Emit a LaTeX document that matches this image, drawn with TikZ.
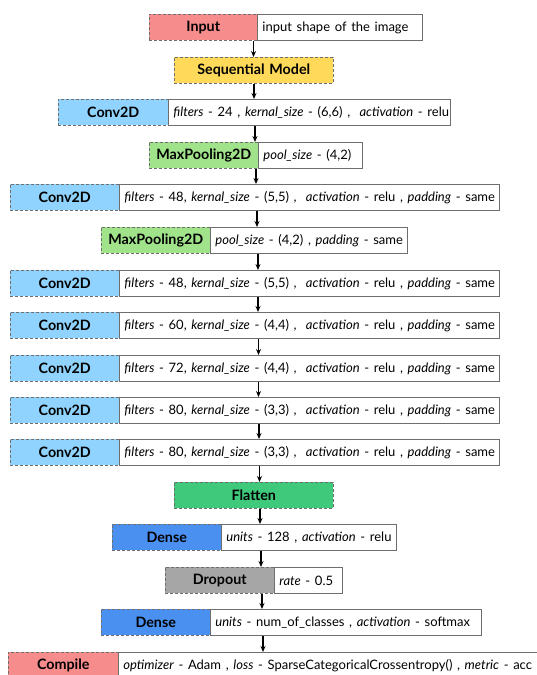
\documentclass[tikz,border=0pt]{standalone}
\usepackage{fontspec}
\setmainfont{Lato}[WordSpace=1.4]
\usetikzlibrary{arrows.meta}

\definecolor{cPink}{RGB}{247,140,140}
\definecolor{cYellow}{RGB}{255,217,90}
\definecolor{cSky}{RGB}{143,211,254}
\definecolor{cLime}{RGB}{160,227,138}
\definecolor{cGreen}{RGB}{63,201,122}
\definecolor{cBlue}{RGB}{74,144,240}
\definecolor{cGray}{RGB}{166,166,166}
\definecolor{cEdge}{RGB}{110,110,110}

\tikzset{
  layer/.style={draw=cEdge, densely dashed, line width=0.5pt, inner sep=0pt,
    minimum height=26pt, anchor=north west, font=\fontsize{14.3}{16}\selectfont\bfseries},
  params/.style={draw=cEdge, fill=white, line width=0.8pt, inner ysep=0pt, inner xsep=5pt,
    minimum height=26pt, anchor=north west, font=\fontsize{13}{15}\selectfont},
  arr/.style={line width=1.2pt, -{Stealth[length=6pt,width=5pt]}},
}
% left-aligned parameter text in a box of fixed inner width
\newcommand{\ptext}[2]{\makebox[#1pt][l]{#2}}

\begin{document}
\begin{tikzpicture}[x=1pt,y=-1pt]
\useasboundingbox (0,0) rectangle (536,675);

% input row
\node[layer, fill=cPink, minimum width=108pt] (inL) at (149,14) {Input};
\node[params] (inR) at (257,14) {\ptext{155}{input shape of the image}};

\node[layer, fill=cYellow, minimum width=159pt] (seq) at (174,57) {Sequential Model};

% feature extraction
\node[layer, fill=cSky, minimum width=110pt] (c1L) at (58,99) {Conv2D};
\node[params] (c1R) at (168,99) {\ptext{272}{\textit{filters} - 24 , \textit{kernal\_size} - (6,6) ,\ \ \textit{activation} - relu}};

\node[layer, fill=cLime, minimum width=109pt] (p1L) at (149,142) {MaxPooling2D};
\node[params] (p1R) at (258,142) {\ptext{94}{\textit{pool\_size} - (4,2)}};

\node[layer, fill=cSky, minimum width=109pt] (c2L) at (10,184) {Conv2D};
\node[params] (c2R) at (119,184) {\ptext{370}{\textit{filters} - 48, \textit{kernal\_size} - (5,5) ,\ \ \textit{activation} - relu , \textit{padding} - same}};

\node[layer, fill=cLime, minimum width=109pt] (p2L) at (101,227) {MaxPooling2D};
\node[params] (p2R) at (210,227) {\ptext{187}{\textit{pool\_size} - (4,2) , \textit{padding} - same}};

\node[layer, fill=cSky, minimum width=109pt] (c3L) at (10,270) {Conv2D};
\node[params] (c3R) at (119,270) {\ptext{370}{\textit{filters} - 48, \textit{kernal\_size} - (5,5) ,\ \ \textit{activation} - relu , \textit{padding} - same}};

\node[layer, fill=cSky, minimum width=109pt] (c4L) at (10,312) {Conv2D};
\node[params] (c4R) at (119,312) {\ptext{370}{\textit{filters} - 60, \textit{kernal\_size} - (4,4) ,\ \ \textit{activation} - relu , \textit{padding} - same}};

\node[layer, fill=cSky, minimum width=109pt] (c5L) at (10,355) {Conv2D};
\node[params] (c5R) at (119,355) {\ptext{370}{\textit{filters} - 72, \textit{kernal\_size} - (4,4) ,\ \ \textit{activation} - relu , \textit{padding} - same}};

\node[layer, fill=cSky, minimum width=109pt] (c6L) at (10,397) {Conv2D};
\node[params] (c6R) at (119,397) {\ptext{370}{\textit{filters} - 80, \textit{kernal\_size} - (3,3) ,\ \ \textit{activation} - relu , \textit{padding} - same}};

\node[layer, fill=cSky, minimum width=109pt] (c7L) at (10,439) {Conv2D};
\node[params] (c7R) at (119,439) {\ptext{370}{\textit{filters} - 80, \textit{kernal\_size} - (3,3) ,\ \ \textit{activation} - relu , \textit{padding} - same}};

% classifier head
\node[layer, fill=cGreen, minimum width=159pt] (fl) at (174,482) {Flatten};

\node[layer, fill=cBlue, minimum width=109pt] (d1L) at (112,524) {Dense};
\node[params] (d1R) at (221,524) {\ptext{165}{\textit{units} - 128 , \textit{activation} - relu}};

\node[layer, fill=cGray, minimum width=109pt] (drL) at (165,567) {Dropout};
\node[params] (drR) at (274,567) {\ptext{58}{\textit{rate} - 0.5}};

\node[layer, fill=cBlue, minimum width=109pt] (d2L) at (101,609) {Dense};
\node[params] (d2R) at (210,609) {\ptext{261}{\textit{units} - num\_of\_classes , \textit{activation} - softmax}};

\node[layer, fill=cPink, minimum width=110pt] (coL) at (8,652) {Compile};
\node[params] (coR) at (118,652) {\ptext{440}{\textit{optimizer} - Adam , \textit{loss} - SparseCategoricalCrossentropy() , \textit{metric} - acc}};

% flow arrows between consecutive layers
\draw[arr] (253.5,0 |- inL.south) -- (253.5,0 |- seq.north);
\draw[arr] (254,0 |- seq.south) -- (254,0 |- c1R.north);
\draw[arr] (255,0 |- c1R.south) -- (255,0 |- p1L.north);
\draw[arr] (256,0 |- p1L.south) -- (256,0 |- c2R.north);
\draw[arr] (257,0 |- c2R.south) -- (257,0 |- p2R.north);
\draw[arr] (258,0 |- p2R.south) -- (258,0 |- c3R.north);
\draw[arr] (258,0 |- c3R.south) -- (258,0 |- c4R.north);
\draw[arr] (258.5,0 |- c4R.south) -- (258.5,0 |- c5R.north);
\draw[arr] (258.5,0 |- c5R.south) -- (258.5,0 |- c6R.north);
\draw[arr] (259,0 |- c6R.south) -- (259,0 |- c7R.north);
\draw[arr] (259.5,0 |- c7R.south) -- (259.5,0 |- fl.north);
\draw[arr] (260,0 |- fl.south) -- (260,0 |- d1R.north);
\draw[arr] (261,0 |- d1R.south) -- (261,0 |- drR.north);
\draw[arr] (262,0 |- drR.south) -- (262,0 |- d2R.north);
\draw[arr] (263,0 |- d2R.south) -- (263,0 |- coR.north);
\end{tikzpicture}
\end{document}
